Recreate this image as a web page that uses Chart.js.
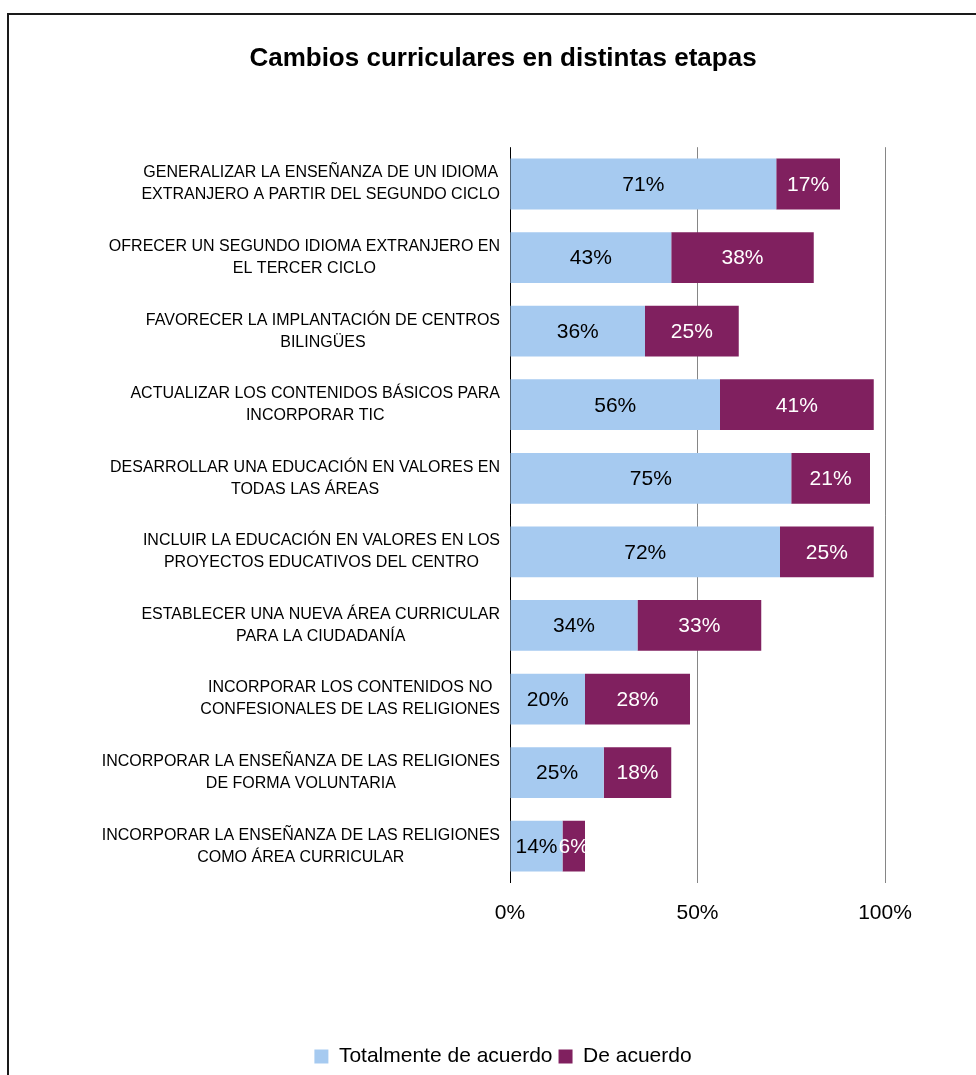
<!DOCTYPE html>
<html>
<head>
<meta charset="utf-8">
<script src="https://cdn.jsdelivr.net/npm/chart.js@4.4.1/dist/chart.umd.min.js"></script>
<style>
  html, body { margin: 0; padding: 0; background: #fff; overflow: hidden; }
  #frame { position: absolute; left: 7px; top: 13px; width: 1000px; height: 1100px;
           border-left: 2px solid #1a1a1a; border-top: 2px solid #1a1a1a; }
  #chart { position: absolute; left: 0; top: 0; }
</style>
</head>
<body>
<div id="frame"></div>
<canvas id="chart" width="976" height="1075"></canvas>
<script>
// categorías (dos líneas cada una, como en el original)
const categories = [
  ['GENERALIZAR LA ENSEÑANZA DE UN IDIOMA', 'EXTRANJERO A PARTIR DEL SEGUNDO CICLO'],
  ['OFRECER UN SEGUNDO IDIOMA EXTRANJERO EN', 'EL TERCER CICLO'],
  ['FAVORECER LA IMPLANTACIÓN DE CENTROS', 'BILINGÜES'],
  ['ACTUALIZAR LOS CONTENIDOS BÁSICOS PARA', 'INCORPORAR TIC'],
  ['DESARROLLAR UNA EDUCACIÓN EN VALORES EN', 'TODAS LAS ÁREAS'],
  ['INCLUIR LA EDUCACIÓN EN VALORES EN LOS', 'PROYECTOS EDUCATIVOS DEL CENTRO'],
  ['ESTABLECER UNA NUEVA ÁREA CURRICULAR', 'PARA LA CIUDADANÍA'],
  ['INCORPORAR LOS CONTENIDOS NO', 'CONFESIONALES DE LAS RELIGIONES'],
  ['INCORPORAR LA ENSEÑANZA DE LAS RELIGIONES', 'DE FORMA VOLUNTARIA'],
  ['INCORPORAR LA ENSEÑANZA DE LAS RELIGIONES', 'COMO ÁREA CURRICULAR']
];
const totalmente = [71, 43, 36, 56, 75, 72, 34, 20, 25, 14];
const deAcuerdo  = [17, 38, 25, 41, 21, 25, 33, 28, 18, 6];
const xTicks = [0, 50, 100];

const FONT = 'Arial, "Liberation Sans", sans-serif';

// etiquetas de valor dentro de cada segmento
const barLabels = {
  id: 'barLabels',
  afterDatasetsDraw(chart) {
    const ctx = chart.ctx;
    ctx.save();
    ctx.font = '21px ' + FONT;
    ctx.textAlign = 'center';
    ctx.textBaseline = 'middle';
    chart.data.datasets.forEach((ds, di) => {
      ctx.fillStyle = di === 0 ? '#000' : '#fff';
      chart.getDatasetMeta(di).data.forEach((el, i) => {
        const p = el.getCenterPoint();
        ctx.fillText(ds.data[i] + '%', p.x, p.y + 1);
      });
    });
    ctx.restore();
  }
};

// etiquetas de categoría: bloque alineado a la derecha, líneas centradas entre sí
const catLabels = {
  id: 'catLabels',
  afterDraw(chart) {
    const ctx = chart.ctx, ys = chart.scales.y;
    const right = chart.chartArea.left - 10, lh = 22;
    ctx.save();
    ctx.font = '16px ' + FONT;
    ctx.fillStyle = '#000';
    ctx.textAlign = 'center';
    ctx.textBaseline = 'middle';
    categories.forEach((lines, i) => {
      const w = Math.max(...lines.map(l => ctx.measureText(l).width));
      const cx = right - w / 2;
      const y0 = ys.getPixelForTick(i) - (lines.length - 1) * lh / 2;
      lines.forEach((l, k) => ctx.fillText(l, cx, y0 + k * lh));
    });
    ctx.restore();
  }
};

new Chart(document.getElementById('chart'), {
  type: 'bar',
  data: {
    labels: categories,
    datasets: [
      { label: 'Totalmente de acuerdo', data: totalmente, backgroundColor: '#A6CAF0' },
      { label: 'De acuerdo', data: deAcuerdo, backgroundColor: '#80205F' }
    ]
  },
  options: {
    indexAxis: 'y',
    responsive: false,
    animation: false,
    categoryPercentage: 1,
    barPercentage: 0.69,
    layout: { padding: { left: 121, right: 91, top: 0, bottom: -2 } },
    plugins: {
      title: {
        display: true,
        text: 'Cambios curriculares en distintas etapas',
        color: '#000',
        font: { family: FONT, size: 26, weight: 'bold', lineHeight: 1.2 },
        padding: { top: 43, bottom: 73 }
      },
      legend: {
        position: 'bottom',
        labels: { color: '#000', font: { family: FONT, size: 21, lineHeight: 1.0 }, boxWidth: 14, boxHeight: 14, padding: 6 }
      },
      tooltip: { enabled: false }
    },
    scales: {
      x: {
        stacked: true,
        min: 0, max: 100,
        afterBuildTicks: s => { s.ticks = xTicks.map(v => ({ value: v })); },
        afterFit: s => { s.height = 157; },
        ticks: { color: '#000', font: { family: FONT, size: 21 }, padding: 18, callback: v => v + '%' },
        grid: {
          drawTicks: false,
          color: c => c.tick && c.tick.value === 0 ? '#000' : '#868686',
          lineWidth: 1
        },
        border: { display: false }
      },
      y: {
        stacked: true,
        afterFit: s => { s.width = 389; },
        ticks: { display: false },
        grid: { display: false },
        border: { display: false }
      }
    }
  },
  plugins: [barLabels, catLabels]
});
</script>
</body>
</html>
